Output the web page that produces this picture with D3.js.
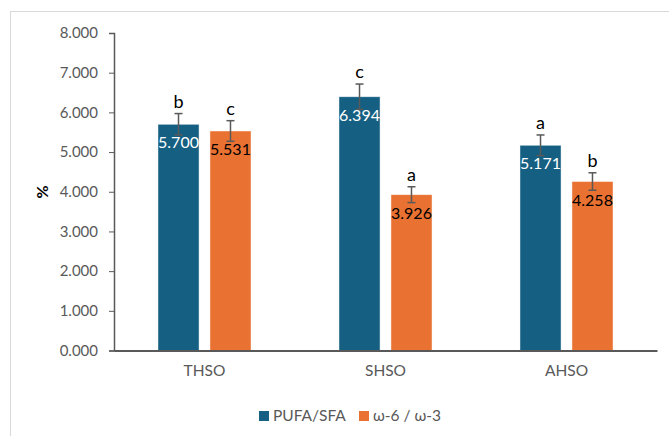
<!DOCTYPE html>
<html><head><meta charset="utf-8">
<script src="https://cdn.jsdelivr.net/npm/d3@7"></script>
<style>body{margin:0;background:#fff}svg{display:block}</style>
</head><body>
<svg id="c" width="669" height="436"></svg>
<script>
const categories = ["THSO", "SHSO", "AHSO"];
const seriesNames = ["PUFA/SFA", "ω-6 / ω-3"];
const pufaSfa = [5.700, 6.394, 5.171];
const omegaRatio = [5.531, 3.926, 4.258];
const pufaErr = [0.27, 0.32, 0.26];
const omegaErr = [0.26, 0.20, 0.22];
const pufaLetters = ["b", "c", "a"];
const omegaLetters = ["c", "a", "b"];
const yTicks = [0, 1, 2, 3, 4, 5, 6, 7, 8];
const colors = ["#156082", "#E97132"];
const labelColors = ["#ffffff", "#000000"];

const font = "Lato, 'Open Sans', sans-serif";
const svg = d3.select("#c");

// chart border
svg.append("rect").attr("x", 10.5).attr("y", 11.5).attr("width", 700).attr("height", 500)
  .attr("fill", "none").attr("stroke", "#d9d9d9").attr("stroke-width", 1);

const x0 = d3.scaleBand().domain(categories).range([114, 657]).paddingInner(0.486).paddingOuter(0.243);
const x1 = d3.scaleBand().domain(seriesNames).range([0, x0.bandwidth()]).paddingInner(0.21);
const y = d3.scaleLinear().domain([0, 8]).range([350.5, 33]);

const rows = [];
categories.forEach((c, i) => {
  rows.push({cat: c, s: 0, v: pufaSfa[i], e: pufaErr[i], l: pufaLetters[i]});
  rows.push({cat: c, s: 1, v: omegaRatio[i], e: omegaErr[i], l: omegaLetters[i]});
});

// y axis
const yAxis = d3.axisLeft(y).tickValues(yTicks).tickFormat(d3.format(".3f")).tickSizeOuter(0).tickSize(5).tickPadding(11);
const ga = svg.append("g").attr("transform", "translate(114,0)").call(yAxis);
ga.select(".domain").attr("stroke", "#595959").attr("stroke-width", 1.5);
ga.selectAll(".tick line").attr("stroke", "#595959").attr("stroke-width", 1);
ga.selectAll(".tick text").attr("fill", "#595959").style("font-family", font).style("font-size", "15px");

// bars
const gb = svg.append("g");
gb.selectAll("rect").data(rows).join("rect")
  .attr("x", d => x0(d.cat) + x1(seriesNames[d.s]))
  .attr("y", d => y(d.v))
  .attr("width", x1.bandwidth())
  .attr("height", d => y(0) - y(d.v))
  .attr("fill", d => colors[d.s])
  .attr("stroke", "#ffffff").attr("stroke-opacity", 0.6).attr("stroke-width", 0.75);

// x axis
const xAxis = d3.axisBottom(x0).tickSize(0).tickPadding(14);
const gx = svg.append("g").attr("transform", `translate(0,${y(0)})`).call(xAxis);
gx.select(".domain").attr("stroke", "#595959").attr("stroke-width", 2);
gx.selectAll(".tick text").attr("fill", "#595959").style("font-family", font).style("font-size", "15.5px");

// error bars
const ge = svg.append("g").attr("stroke", "#595959").attr("stroke-width", 1.5);
rows.forEach(d => {
  const cx = x0(d.cat) + x1(seriesNames[d.s]) + x1.bandwidth() / 2;
  ge.append("line").attr("x1", cx).attr("x2", cx).attr("y1", y(d.v + d.e)).attr("y2", y(d.v - d.e));
  ge.append("line").attr("x1", cx - 4).attr("x2", cx + 4).attr("y1", y(d.v + d.e)).attr("y2", y(d.v + d.e));
  ge.append("line").attr("x1", cx - 4).attr("x2", cx + 4).attr("y1", y(d.v - d.e)).attr("y2", y(d.v - d.e));
});

// value labels
svg.append("g").selectAll("text").data(rows).join("text")
  .attr("x", d => x0(d.cat) + x1(seriesNames[d.s]) + x1.bandwidth() / 2)
  .attr("y", d => y(d.v) + 24)
  .attr("text-anchor", "middle")
  .attr("fill", d => labelColors[d.s])
  .style("font-family", font).style("font-size", "16px")
  .text(d => d3.format(".3f")(d.v));

// significance letters
svg.append("g").selectAll("text").data(rows).join("text")
  .attr("x", d => x0(d.cat) + x1(seriesNames[d.s]) + x1.bandwidth() / 2)
  .attr("y", d => y(d.v + d.e) - 6)
  .attr("text-anchor", "middle")
  .attr("fill", "#000")
  .style("font-family", font).style("font-size", "18px")
  .text(d => d.l);

// y title
svg.append("text").attr("transform", "translate(48,192) rotate(-90)")
  .attr("text-anchor", "middle").attr("fill", "#000")
  .style("font-family", font).style("font-size", "16px").style("font-weight", "bold")
  .text("%");

// legend
const legX = [259, 359];
seriesNames.forEach((s, i) => {
  svg.append("rect").attr("x", legX[i]).attr("y", 411).attr("width", 10).attr("height", 10).attr("fill", colors[i]);
  svg.append("text").attr("x", legX[i] + 14).attr("y", 421).attr("fill", "#595959")
    .style("font-family", font).style("font-size", "15.5px").text(s);
});
</script>
</body></html>
